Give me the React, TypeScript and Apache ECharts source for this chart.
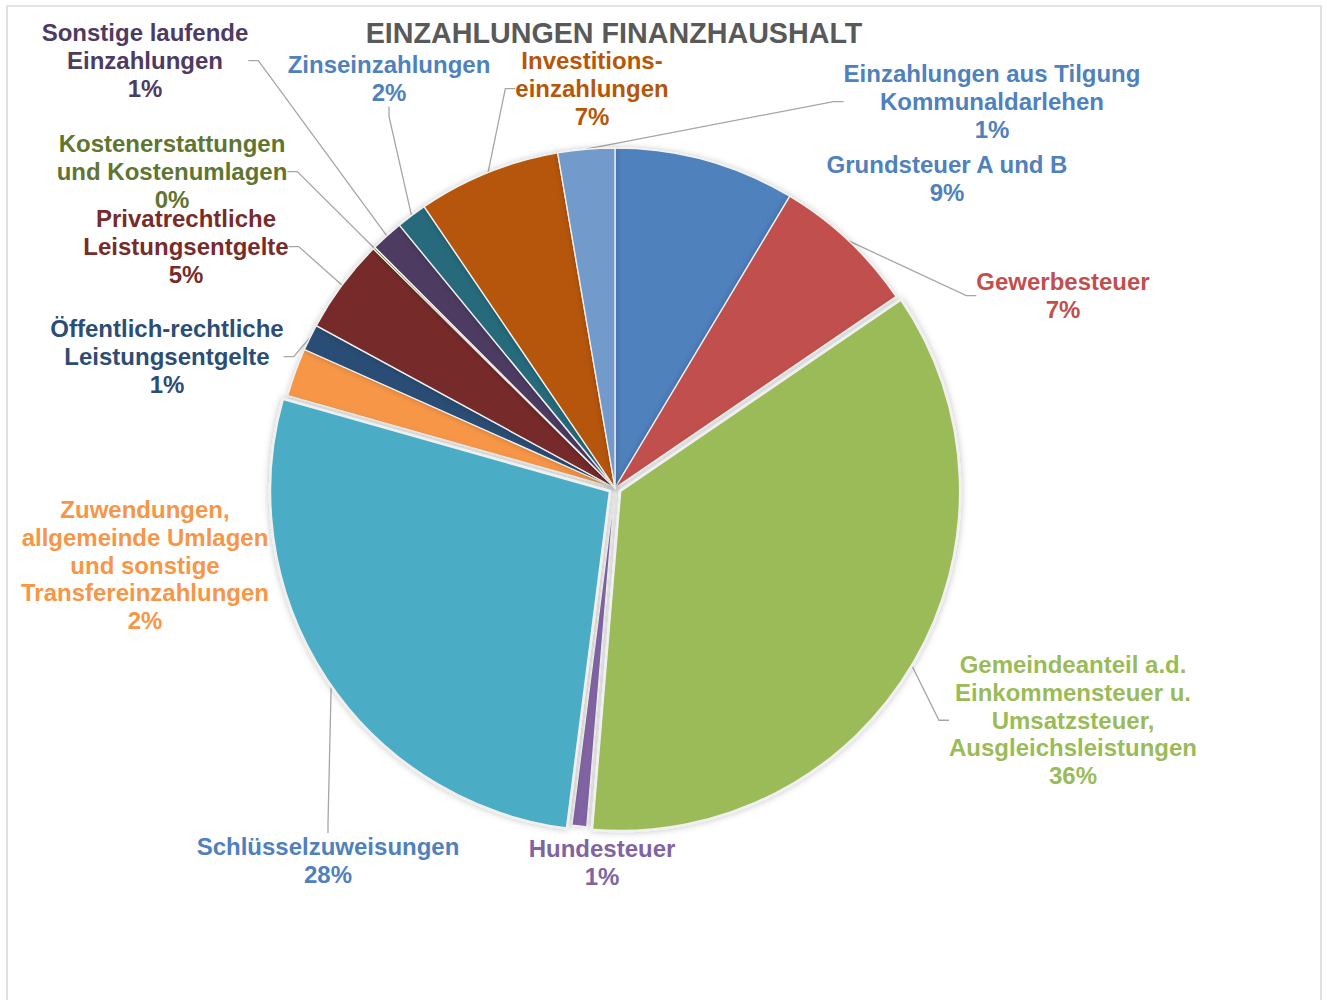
import React, { useEffect, useRef } from "react";
import * as echarts from "echarts";

const titleText = "EINZAHLUNGEN FINANZHAUSHALT";

const categories = [
  "Grundsteuer A und B",
  "Gewerbesteuer",
  "Gemeindeanteil a.d.\nEinkommensteuer u.\nUmsatzsteuer,\nAusgleichsleistungen",
  "Hundesteuer",
  "Schlüsselzuweisungen",
  "Zuwendungen,\nallgemeinde Umlagen\nund sonstige\nTransfereinzahlungen",
  "Öffentlich-rechtliche\nLeistungsentgelte",
  "Privatrechtliche\nLeistungsentgelte",
  "Kostenerstattungen\nund Kostenumlagen",
  "Sonstige laufende\nEinzahlungen",
  "Zinseinzahlungen",
  "Investitions-\neinzahlungen",
  "Einzahlungen aus Tilgung\nKommunaldarlehen",
];

// slice shares
const values = [8.6, 6.9, 35.9, 0.7, 27.4, 2.3, 1.25, 4.5, 0.1, 1.55, 1.45, 6.8, 2.7];

// percentages as printed in the data labels
const shownPercent = [9, 7, 36, 1, 28, 2, 1, 5, 0, 1, 2, 7, 1];

const sliceColors = [
  "#4F81BD", "#C0504D", "#9BBB59", "#8064A2", "#4BACC6", "#F79646",
  "#2C4D75", "#772C2A", "#5F7530", "#4D3B62", "#276A7C", "#B65708", "#729ACA",
];

const labelColors = [
  "#4F81BD", "#C0504D", "#9BBB59", "#8064A2", "#4F81BD", "#F79646",
  "#2C4D75", "#772C2A", "#5F7530", "#4D3B62", "#4F81BD", "#B65708", "#4F81BD",
];

// label block: centre x, top y
const labelAnchors: [number, number][] = [
  [947, 151],
  [1063, 268],
  [1073, 651],
  [602, 835],
  [328, 833],
  [145, 496],
  [167, 315],
  [186, 205],
  [172, 130],
  [145, 19],
  [389, 51],
  [592, 47],
  [992, 60],
];

const showLeader = [false, true, true, false, true, false, true, true, true, true, true, true, true];
const exploded = [false, false, true, false, true, false, false, false, false, false, false, false, false];

const FONT = "'Liberation Sans', Arial, sans-serif";

export default function App() {
  const ref = useRef<HTMLDivElement>(null);

  useEffect(() => {
    if (!ref.current) return;
    const chart = echarts.init(ref.current, undefined, { renderer: "svg" });

    const sliceStyle = {
      borderColor: "rgba(242,242,242,1)",
      borderWidth: 1.3,
      shadowBlur: 6,
      shadowColor: "rgba(0,0,0,0.22)",
    };
    const explodedStyle = {
      borderColor: "rgba(240,240,240,1)",
      borderWidth: 2.5,
      shadowBlur: 7,
      shadowColor: "rgba(0,0,0,0.25)",
    };
    const hiddenStyle = {
      color: "rgba(0,0,0,0)",
      borderWidth: 0,
      shadowBlur: 0,
      shadowColor: "rgba(0,0,0,0)",
    };

    // series with the labels and the slices that stay in place
    const mainData = categories.map((name, i) => ({
      name,
      value: values[i],
      itemStyle: exploded[i] ? hiddenStyle : { ...sliceStyle, color: sliceColors[i] },
      label: { color: labelColors[i] },
      labelLine: { show: showLeader[i] },
    }));

    // series with the pulled-out slices only
    const explodedData = categories.map((name, i) => ({
      name,
      value: values[i],
      selected: exploded[i],
      itemStyle: exploded[i] ? { ...explodedStyle, color: sliceColors[i] } : hiddenStyle,
    }));

    const common = {
      type: "pie",
      center: [615, 488],
      radius: [0, 340],
      startAngle: 90,
      clockwise: true,
      emphasis: { disabled: true },
    };

    chart.setOption({
      animation: false,
      backgroundColor: "#ffffff",
      title: {
        text: titleText,
        left: 614,
        top: 19,
        textAlign: "center",
        padding: 0,
        textStyle: {
          fontFamily: FONT,
          fontSize: 28.7,
          fontWeight: "bold",
          color: "#595959",
          lineHeight: 28,
        },
      },
      graphic: [
        {
          type: "rect",
          silent: true,
          z: -10,
          shape: { x: 7, y: 6, width: 1314, height: 1010 },
          style: { fill: "none", stroke: "#D9D9D9", lineWidth: 1.5 },
        },
      ],
      series: [
        {
          ...common,
          name: "main",
          selectedMode: false,
          avoidLabelOverlap: false,
          minShowLabelAngle: 0,
          label: {
            show: true,
            position: "outside",
            fontFamily: FONT,
            fontSize: 24,
            fontWeight: "bold",
            lineHeight: 27.7,
            align: "center",
            formatter: (p: any) => `${p.name}\n${shownPercent[p.dataIndex]}%`,
          },
          labelLine: {
            show: true,
            length: 10,
            length2: 10,
            lineStyle: { color: "#A6A6A6", width: 1.3 },
          },
          labelLayout: (p: any) => {
            const [x, y] = labelAnchors[p.dataIndex];
            return { x, y, align: "center", verticalAlign: "top" };
          },
          data: mainData,
        },
        {
          ...common,
          name: "exploded",
          silent: true,
          selectedMode: "multiple",
          selectedOffset: 6,
          label: { show: false },
          labelLine: { show: false },
          select: { itemStyle: {} },
          data: explodedData,
        },
      ],
    });

    return () => chart.dispose();
  }, []);

  return (
    <div
      ref={ref}
      style={{ position: "absolute", left: 0, top: 0, width: 1327, height: 1000 }}
    />
  );
}
